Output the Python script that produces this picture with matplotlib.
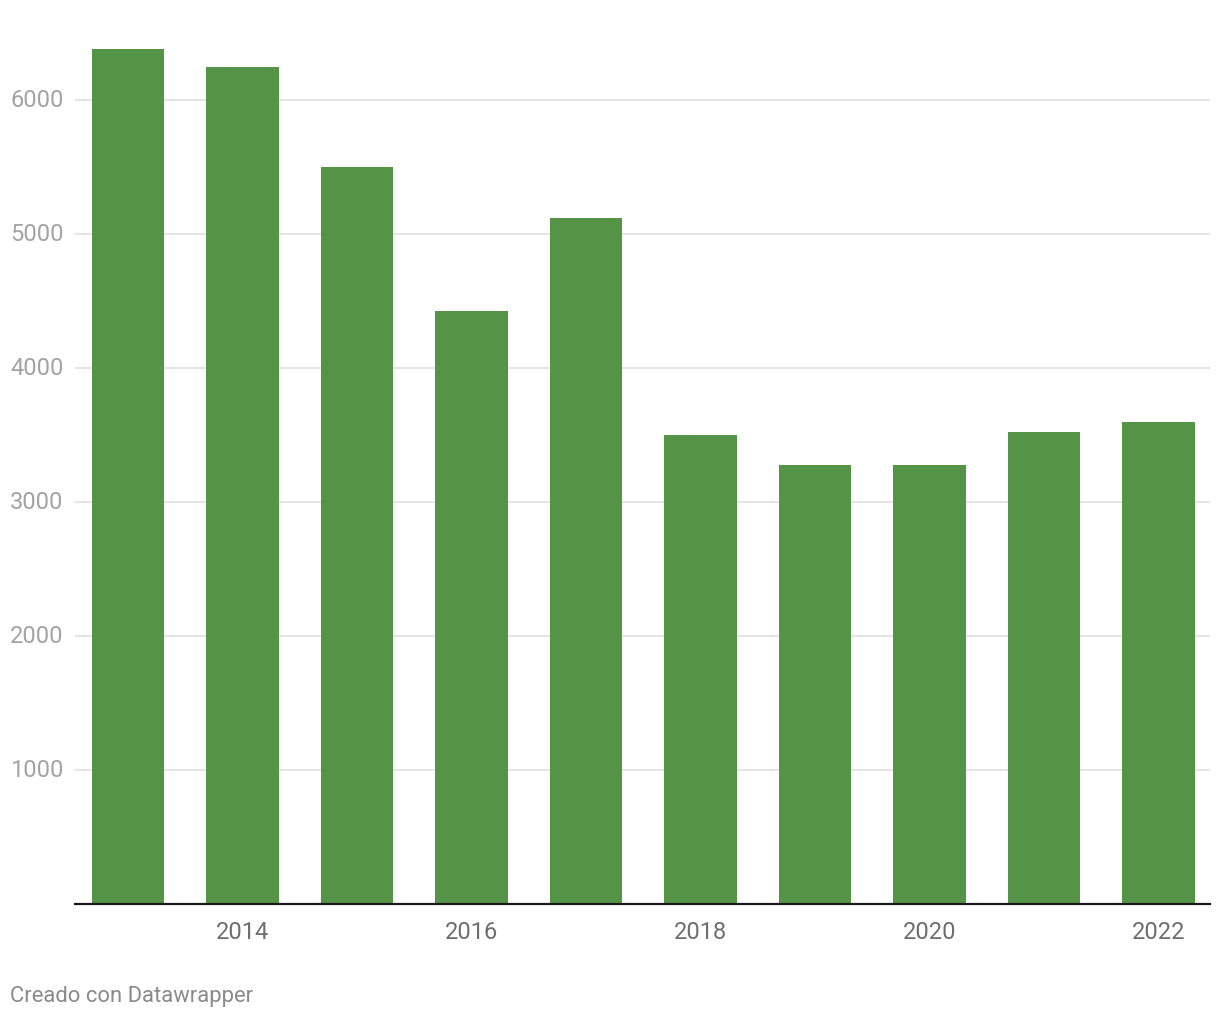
import matplotlib.pyplot as plt
import matplotlib.transforms as mtrans

plt.rcParams['font.family'] = ['Roboto', 'DejaVu Sans']

years = [2013, 2014, 2015, 2016, 2017, 2018, 2019, 2020, 2021, 2022]
values = [6380, 6240, 5500, 4418, 5112, 3500, 3276, 3270, 3522, 3590]
ytick_vals = [1000, 2000, 3000, 4000, 5000, 6000]
xtick_vals = [2014, 2016, 2018, 2020, 2022]

W, H = 1220, 1020
fig = plt.figure(figsize=(W / 100, H / 100), dpi=100)
ax = fig.add_axes([75 / W, (H - 904.5) / H, (1210 - 75) / W, (904.5 - 31.5) / H])

ax.bar(years, values, width=0.63, color='#559447', zorder=2)

ax.set_xlim(2012.537, 2022.45)
ax.set_ylim(0, 6515)

for v in ytick_vals:
    ax.axhline(v, color='#e3e3e3', lw=1.3, zorder=1)

# y labels sit at the left edge of the figure
tr = mtrans.blended_transform_factory(fig.transFigure, ax.transData)
for v in ytick_vals:
    ax.text(10 / W, v, str(v), transform=tr, ha='left', va='center',
            fontsize=17, color='#a3a3a3')
ax.set_yticks([])

ax.set_xticks(xtick_vals)
ax.set_xticklabels([str(y) for y in xtick_vals], fontsize=17, color='#6e6e6e')
ax.tick_params(axis='x', length=0, pad=12)

for s in ['top', 'right', 'left']:
    ax.spines[s].set_visible(False)
ax.spines['bottom'].set_color('#1a1a1a')
ax.spines['bottom'].set_linewidth(1.6)
ax.spines['bottom'].set_zorder(3)

fig.text(10 / W, 1 - 997 / H, 'Creado con Datawrapper', ha='left', va='center',
         fontsize=15.8, color='#8a8a8a')

fig.savefig('out.png', dpi=100, facecolor='white')
